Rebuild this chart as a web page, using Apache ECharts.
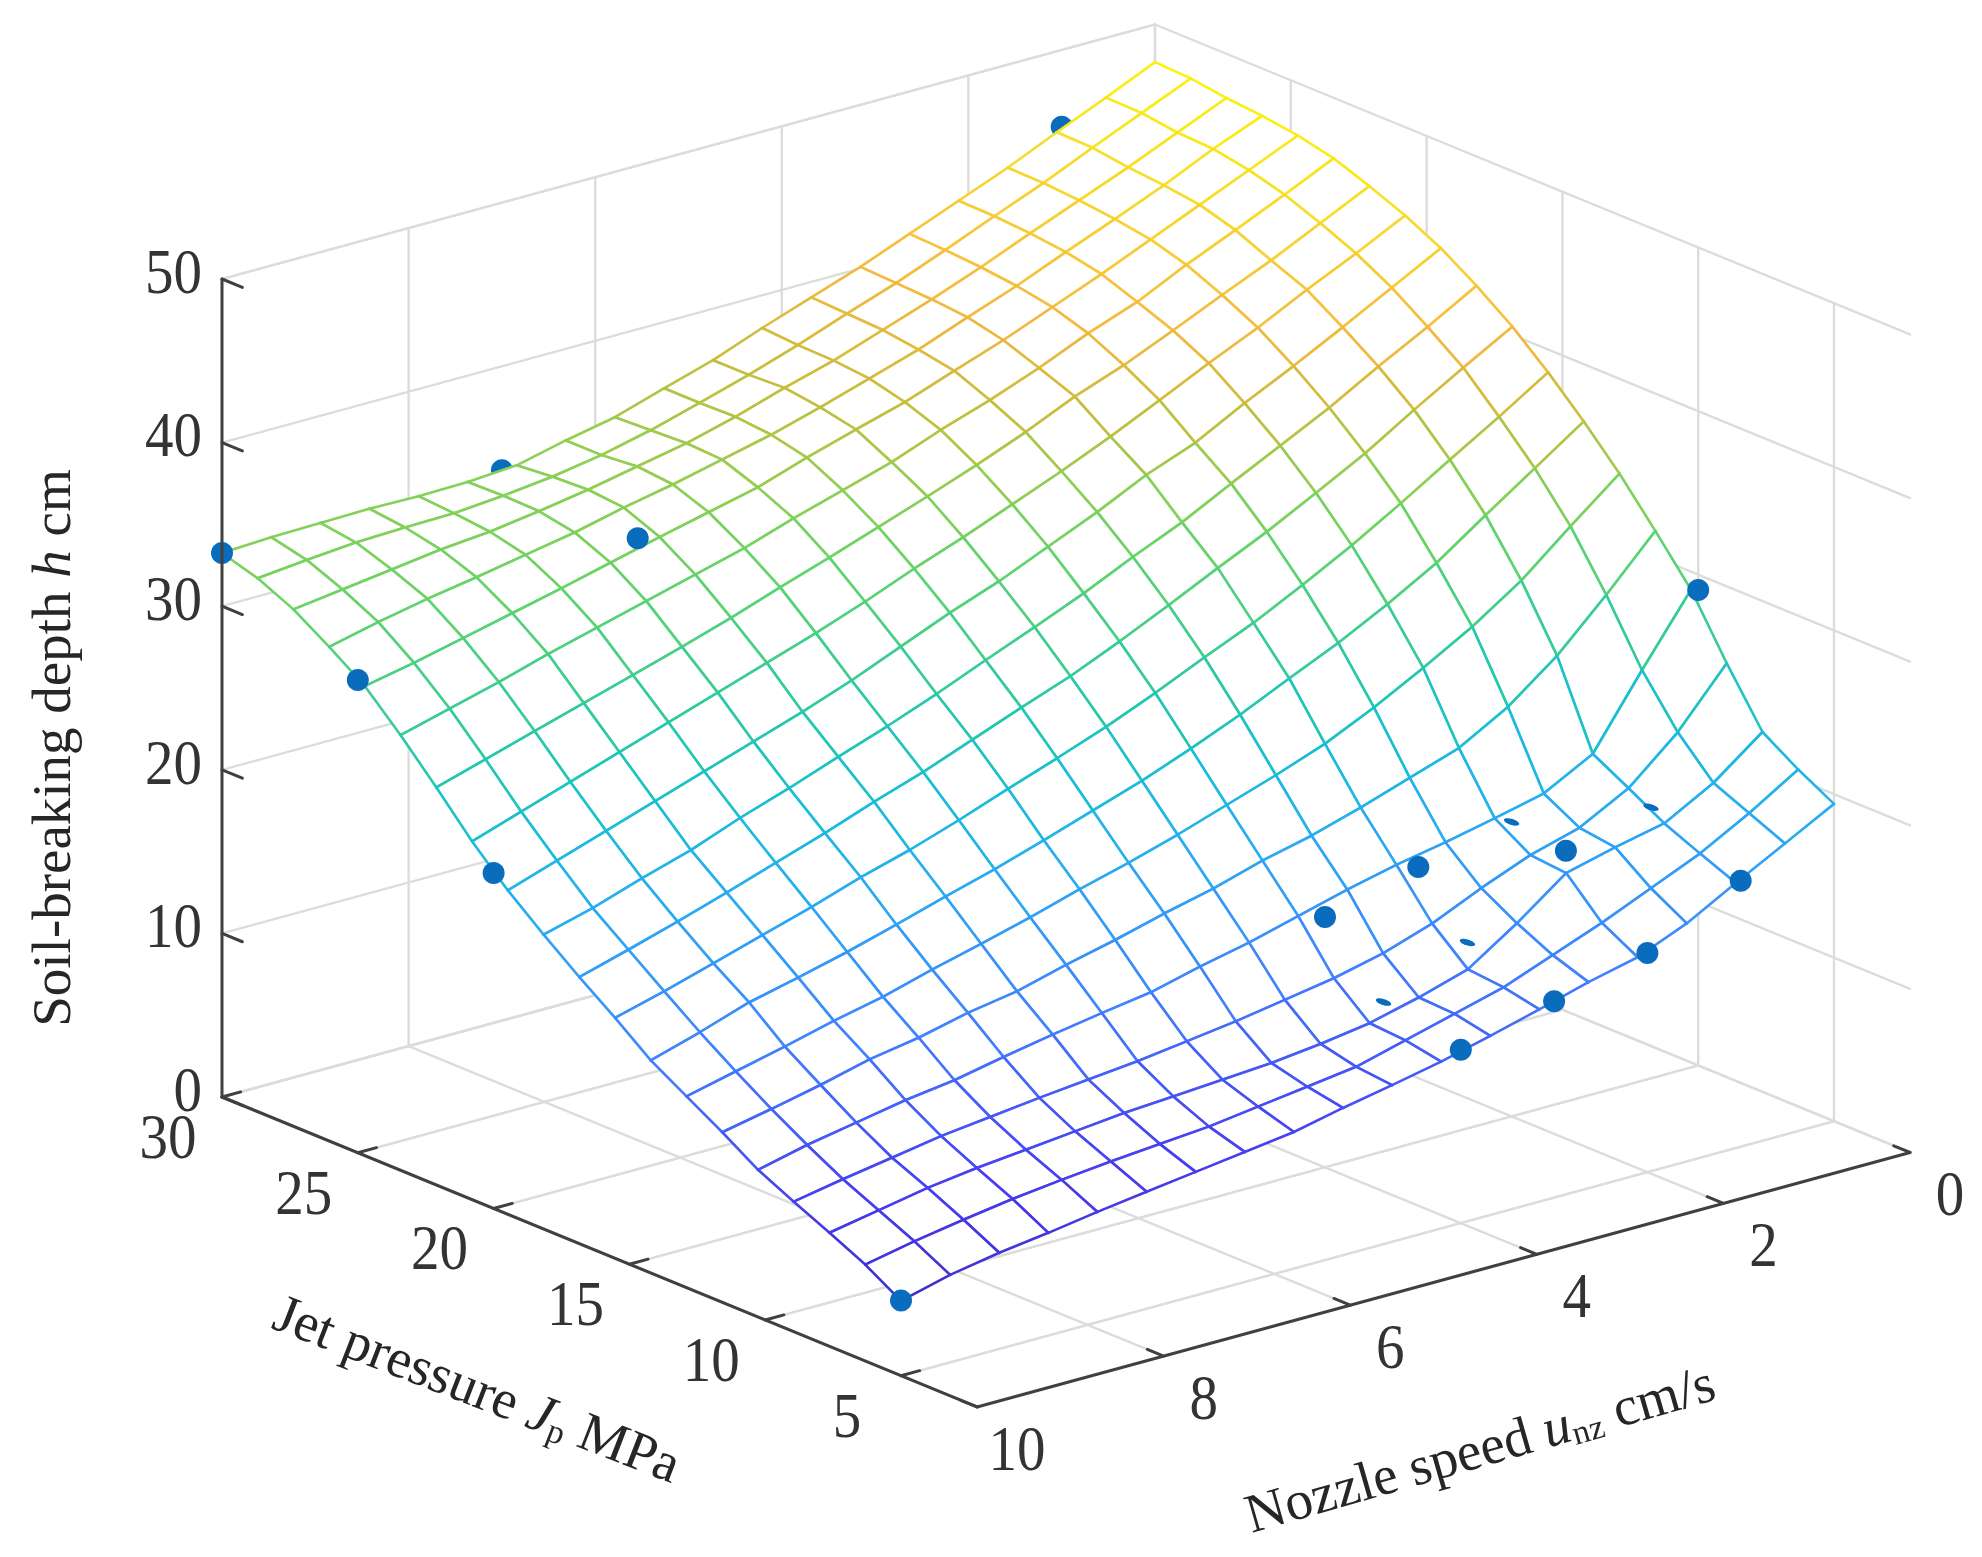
<!DOCTYPE html>
<html><head><meta charset="utf-8">
<style>html,body{margin:0;padding:0;background:#fff}#c{width:1982px;height:1557px}</style>
<script src="https://cdn.jsdelivr.net/npm/echarts@6/dist/echarts.min.js"></script>
</head><body><div id="c"></div>
<script>
// ---- data ----
const nozzleSpeed = [10,9.474,8.947,8.421,7.895,7.368,6.842,6.316,5.789,5.263,4.737,4.211,3.684,3.158,2.632,2.105,1.579,1.053,0.526,0];
const jetPressure = [5,6.316,7.632,8.947,10.263,11.579,12.895,14.211,15.526,16.842,18.158,19.474,20.789,22.105,23.421,24.737,26.053,27.368,28.684,30];
// depth[j][k] : j along jetPressure, k along nozzleSpeed
const r00=[4.58,5.35,5.88,6.28,6.74,7.15,7.55,7.95,8.35,9.0,9.58,10.2,10.95,11.75,12.6,13.3,14.55,16.2,17.8,19.4];
const r01=[5.9,6.5,7.0,7.45,7.8,8.1,8.35,8.6,9.0,9.4,9.8,10.6,11.4,12.2,13.35,14.5,15.8,17.1,18.75,20.6];
const r02=[6.95,7.5,8.05,8.45,8.75,9.05,9.35,9.55,9.75,9.95,10.3,10.75,11.5,12.4,14.4,16.65,17.4,18.05,19.7,22.0];
const r03=[7.95,8.5,9.0,9.5,9.85,10.2,10.5,10.8,11.2,11.6,12.1,12.6,13.3,14.3,15.65,16.85,17.7,19.3,21.9,25.3];
const r04=[9.0,9.7,10.25,10.8,11.2,11.8,12.35,12.85,13.3,14.05,14.7,15.5,16.3,17.0,17.55,18.2,18.9,20.5,24.8,28.9];
const r05=[10.4,11.0,11.65,12.4,12.9,13.6,14.1,14.9,15.6,16.4,17.1,18.0,18.7,19.6,20.6,21.6,23.3,25.6,28.5,31.6];
const r06=[11.7,12.4,13.1,13.85,14.5,15.35,16.1,16.9,17.8,18.6,19.5,20.5,21.5,22.6,24.0,25.6,27.3,29.3,31.8,34.2];
const r07=[13.0,13.9,14.9,15.6,16.35,17.2,18.1,18.95,19.9,20.9,21.9,23.05,24.3,25.7,27.05,28.6,30.3,32.4,34.45,36.5];
const r08=[14.7,15.5,16.4,17.3,18.2,19.2,20.05,21.05,22.15,23.2,24.3,25.55,26.9,28.2,29.7,31.3,33.05,34.9,36.7,38.6];
const r09=[16.3,17.15,18.05,19,20,21,22.1,23.1,24.25,25.4,26.5,27.8,29.2,30.65,32.05,33.6,35.2,37.05,38.8,40.5];
const r10=[18,18.8,19.8,20.7,21.85,22.85,23.95,25,26.15,27.4,28.6,29.85,31.25,32.55,34.1,35.6,37.1,38.8,40.4,42.1];
const r11=[19.8,20.8,21.8,22.8,23.8,24.8,25.8,26.9,28.15,29.4,30.5,31.8,33.1,34.55,35.7,37.3,38.75,40.3,41.9,43.5];
const r12=[21.9,22.9,23.9,24.9,25.9,26.9,27.9,28.9,30,31.2,32.3,33.5,34.7,36,37.4,38.85,40.2,41.7,43.1,44.6];
const r13=[24.3,25.2,26.1,27,27.9,28.8,29.75,30.8,31.8,32.85,33.9,35,36.2,37.55,38.65,39.95,41.3,42.6,44.05,45.5];
const r14=[26.6,27.4,28.2,29.1,29.9,30.7,31.5,32.3,33.3,34.2,35.1,36.25,37.25,38.4,39.7,40.8,42.25,43.55,44.9,46.3];
const r15=[28.7,29.3,30,30.7,31.4,32.15,32.9,33.6,34.3,35.3,36.2,37.05,38.15,39.2,40.4,41.6,42.9,44.2,45.5,46.8];
const r16=[30.2,30.9,31.5,32,32.55,33.1,33.8,34.4,35.1,35.8,36.65,37.6,38.55,39.7,40.8,42.05,43.25,44.5,45.9,47.1];
const r17=[31.6,32,32.4,32.8,33.07,33.5,34,34.6,35.2,36,36.95,37.8,38.85,39.9,41.05,42.3,43.5,44.7,46,47.3];
const r18=[32.6,32.9,33.15,33.25,33.3,33.55,33.9,34.4,35.1,35.95,36.85,37.85,38.95,40,41.2,42.45,43.66,45,46.3,47.6];
const r19=[33.25,33.4,33.45,33.5,33.45,33.5,33.7,34.4,35,35.95,36.85,38,39.05,40.1,41.3,42.5,43.7,45.05,46.35,47.7];
const depth=[r00,r01,r02,r03,r04,r05,r06,r07,r08,r09,r10,r11,r12,r13,r14,r15,r16,r17,r18,r19];
// measured points [u, J, h]
const pointsOver=[[10,30,33.25],[10,25,28.9],[10,20,20.5],[10,5,4.6],[7,25,32.9],[0,10,29.07],[1,5,16.25],[2,5,13.4],[3,5,12.0],[4,5,10.6],[4,10,15.3],[3,10,16.8],[2,8,17.6]];
const pointsUnder=[[7,30,33.65],[1,30,45.3]];
const pointsPoking=[[4.1,7.5,11.96],[3.2,7.5,14.2],[2,10,18],[1,8.3,18.5]];
const zTicks=[0,10,20,30,40,50];
const jTicks=[30,25,20,15,10,5];
const uTicks=[10,8,6,4,2,0];
const zTitle='{a|Soil-breaking depth }{i|h}{a| cm}';
const jTitle='{a|Jet pressure }{i|J}{s|p}{a| MPa}';
const uTitle='{a|Nozzle speed }{i|u}{s|nz}{a| cm/s}';
const J_MIN=2.2, J_MAX=30, U_MIN=0, U_MAX=10, Z_MIN=0, Z_MAX=50;

// ---- oblique view of the 3-D box onto a plane ----
function project(u,J,h){
  return [222+27.16*(30-J)+93.3*(10-u), 1097+11.15*(30-J)-25.45*(10-u)-16.36*h];
}
const stops=[[4,[62,42,198]],[8,[72,62,240]],[13,[66,130,255]],[19,[40,175,240]],[22,[25,190,215]],[25,[35,200,175]],[31,[95,212,110]],[34,[140,208,85]],[37,[200,190,60]],[40,[245,185,65]],[45,[248,225,40]],[48,[250,246,10]]];
function colorOf(h){
  if(h<=stops[0][0])return 'rgb('+stops[0][1]+')';
  for(let i=1;i<stops.length;i++){
    if(h<=stops[i][0]){
      const t=(h-stops[i-1][0])/(stops[i][0]-stops[i-1][0]);
      const a=stops[i-1][1],b=stops[i][1];
      return 'rgb('+[0,1,2].map(c=>Math.round(a[c]+(b[c]-a[c])*t))+')';
    }
  }
  return 'rgb('+stops[stops.length-1][1]+')';
}
// back-to-front list of mesh cells
const cells=[];
for(let s=36;s>=0;s--)for(let k=0;k<19;k++){const j=s-k;if(j>=0&&j<19)cells.push([k,j]);}

const guide=[],axisLines=[];
function seg(list,a,b){list.push(project(...a).concat(project(...b)));}
zTicks.forEach(z=>{seg(guide,[U_MAX,J_MAX,z],[U_MIN,J_MAX,z]);seg(guide,[U_MIN,J_MAX,z],[U_MIN,J_MIN,z]);});
uTicks.forEach(u=>{if(u<U_MAX)seg(guide,[u,J_MAX,Z_MAX],[u,J_MAX,Z_MIN]);seg(guide,[u,J_MIN,Z_MIN],[u,J_MAX,Z_MIN]);});
jTicks.forEach(J=>{seg(guide,[U_MIN,J,Z_MAX],[U_MIN,J,Z_MIN]);seg(guide,[U_MAX,J,Z_MIN],[U_MIN,J,Z_MIN]);});
seg(axisLines,[U_MAX,J_MAX,Z_MIN],[U_MAX,J_MAX,Z_MAX]);
seg(axisLines,[U_MAX,J_MAX,Z_MIN],[U_MAX,J_MIN,Z_MIN]);
seg(axisLines,[U_MAX,J_MIN,Z_MIN],[U_MIN,J_MIN,Z_MIN]);
zTicks.forEach(z=>seg(axisLines,[U_MAX,J_MAX,z],[U_MAX,J_MAX-0.75,z]));
jTicks.forEach(J=>seg(axisLines,[U_MAX,J,Z_MIN],[U_MAX-0.2,J,Z_MIN]));
uTicks.forEach(u=>seg(axisLines,[u,J_MIN,Z_MIN],[u,J_MIN+0.6,Z_MIN]));

const labels=[];
const FONT='"Liberation Serif","Times New Roman",serif';
zTicks.forEach(z=>{const p=project(U_MAX,J_MAX,z);labels.push({x:p[0]-20,y:p[1]-3,t:String(z),a:'right'});});
jTicks.forEach(J=>{const p=project(U_MAX,J,Z_MIN);labels.push({x:p[0]-54,y:p[1]+44,t:String(J),a:'center'});});
uTicks.forEach(u=>{const p=project(u,J_MIN,Z_MIN);labels.push({x:p[0]+40,y:p[1]+46,t:String(u),a:'center'});});

function lineSeries(name,list,color,width,z){
  return {type:'custom',name,coordinateSystem:'cartesian2d',z,silent:true,animation:false,clip:false,
    data:list,encode:{x:0,y:1},
    renderItem(params,api){
      const d=list[params.dataIndex];
      const a=api.coord([d[0],d[1]]),b=api.coord([d[2],d[3]]);
      return {type:'line',shape:{x1:a[0],y1:a[1],x2:b[0],y2:b[1]},style:{stroke:color,lineWidth:width,lineCap:'round'}};
    }};
}
function dotSeries(name,list,z,rx,ry,rot){
  const pts=list.map(p=>project(p[0],p[1],p[2]));
  return {type:'custom',name,coordinateSystem:'cartesian2d',z,silent:true,animation:false,clip:false,
    data:pts,encode:{x:0,y:1},
    renderItem(params,api){
      const c=api.coord(pts[params.dataIndex]);
      return {type:'ellipse',x:c[0],y:c[1],rotation:rot,shape:{cx:0,cy:0,rx,ry},style:{fill:'#0a6cbc'}};
    }};
}
const titles=[{t:zTitle,x:56,y:748,rot:Math.PI/2,fs:55},{t:jTitle,x:476,y:1392,rot:-0.37,fs:55},{t:uTitle,x:1481,y:1452,rot:0.28,fs:55}];
const richStyles=fs=>({a:{fontFamily:FONT,fontSize:fs,fill:'#262626'},i:{fontFamily:FONT,fontSize:fs,fontStyle:'italic',fill:'#262626'},s:{fontFamily:FONT,fontSize:fs*0.62,fill:'#262626',verticalAlign:'bottom',lineHeight:fs*0.62,padding:[fs*0.3,0,0,0]}});

const chart=echarts.init(document.getElementById('c'),null,{renderer:'canvas'});
chart.setOption({
  animation:false,backgroundColor:'#fff',
  grid:{left:0,right:0,top:0,bottom:0},
  xAxis:{type:'value',min:0,max:1982,show:false},
  yAxis:{type:'value',min:0,max:1557,inverse:true,show:false},
  series:[
    lineSeries('grid',guide,'#dcdcdc',2.4,1),
    dotSeries('points under',pointsUnder,2,11,11,0),
    {type:'custom',name:'surface',coordinateSystem:'cartesian2d',z:3,silent:true,animation:false,clip:false,
      data:cells,encode:{x:0,y:1},
      renderItem(params,api){
        const [k,j]=cells[params.dataIndex];
        const v=[[k,j],[k+1,j],[k+1,j+1],[k,j+1]];
        const pts=v.map(([a,b])=>api.coord(project(nozzleSpeed[a],jetPressure[b],depth[b][a])));
        const hs=v.map(([a,b])=>depth[b][a]);
        const z2=params.dataIndex*5;
        const children=[{type:'polygon',z2,shape:{points:pts},style:{fill:'#fff',stroke:null}}];
        for(let e=0;e<4;e++){
          const n=(e+1)%4;
          children.push({type:'line',z2:z2+1,shape:{x1:pts[e][0],y1:pts[e][1],x2:pts[n][0],y2:pts[n][1]},
            style:{stroke:colorOf((hs[e]+hs[n])/2),lineWidth:2.6,lineCap:'round'}});
        }
        return {type:'group',children};
      }},
    dotSeries('points',pointsOver,4,11,11,0),
    dotSeries('points poking through',pointsPoking,4,8,3,-0.3),
    lineSeries('axes',axisLines,'#404040',3,5),
    {type:'custom',name:'tick labels',coordinateSystem:'cartesian2d',z:6,silent:true,animation:false,clip:false,
      data:labels.map(l=>[l.x,l.y]),encode:{x:0,y:1},
      renderItem(params,api){
        const l=labels[params.dataIndex];const c=api.coord([l.x,l.y]);
        return {type:'text',x:c[0],y:c[1],scaleY:1.12,style:{text:l.t,fontFamily:FONT,fontSize:57,fill:'#333',align:l.a,verticalAlign:'middle'}};
      }},
    {type:'custom',name:'titles',coordinateSystem:'cartesian2d',z:6,silent:true,animation:false,clip:false,
      data:titles.map(l=>[l.x,l.y]),encode:{x:0,y:1},
      renderItem(params,api){
        const l=titles[params.dataIndex];const c=api.coord([l.x,l.y]);
        return {type:'text',x:c[0],y:c[1],rotation:l.rot,style:{text:l.t,rich:richStyles(l.fs),align:'center',verticalAlign:'middle'}};
      }}
  ]
});
</script></body></html>
